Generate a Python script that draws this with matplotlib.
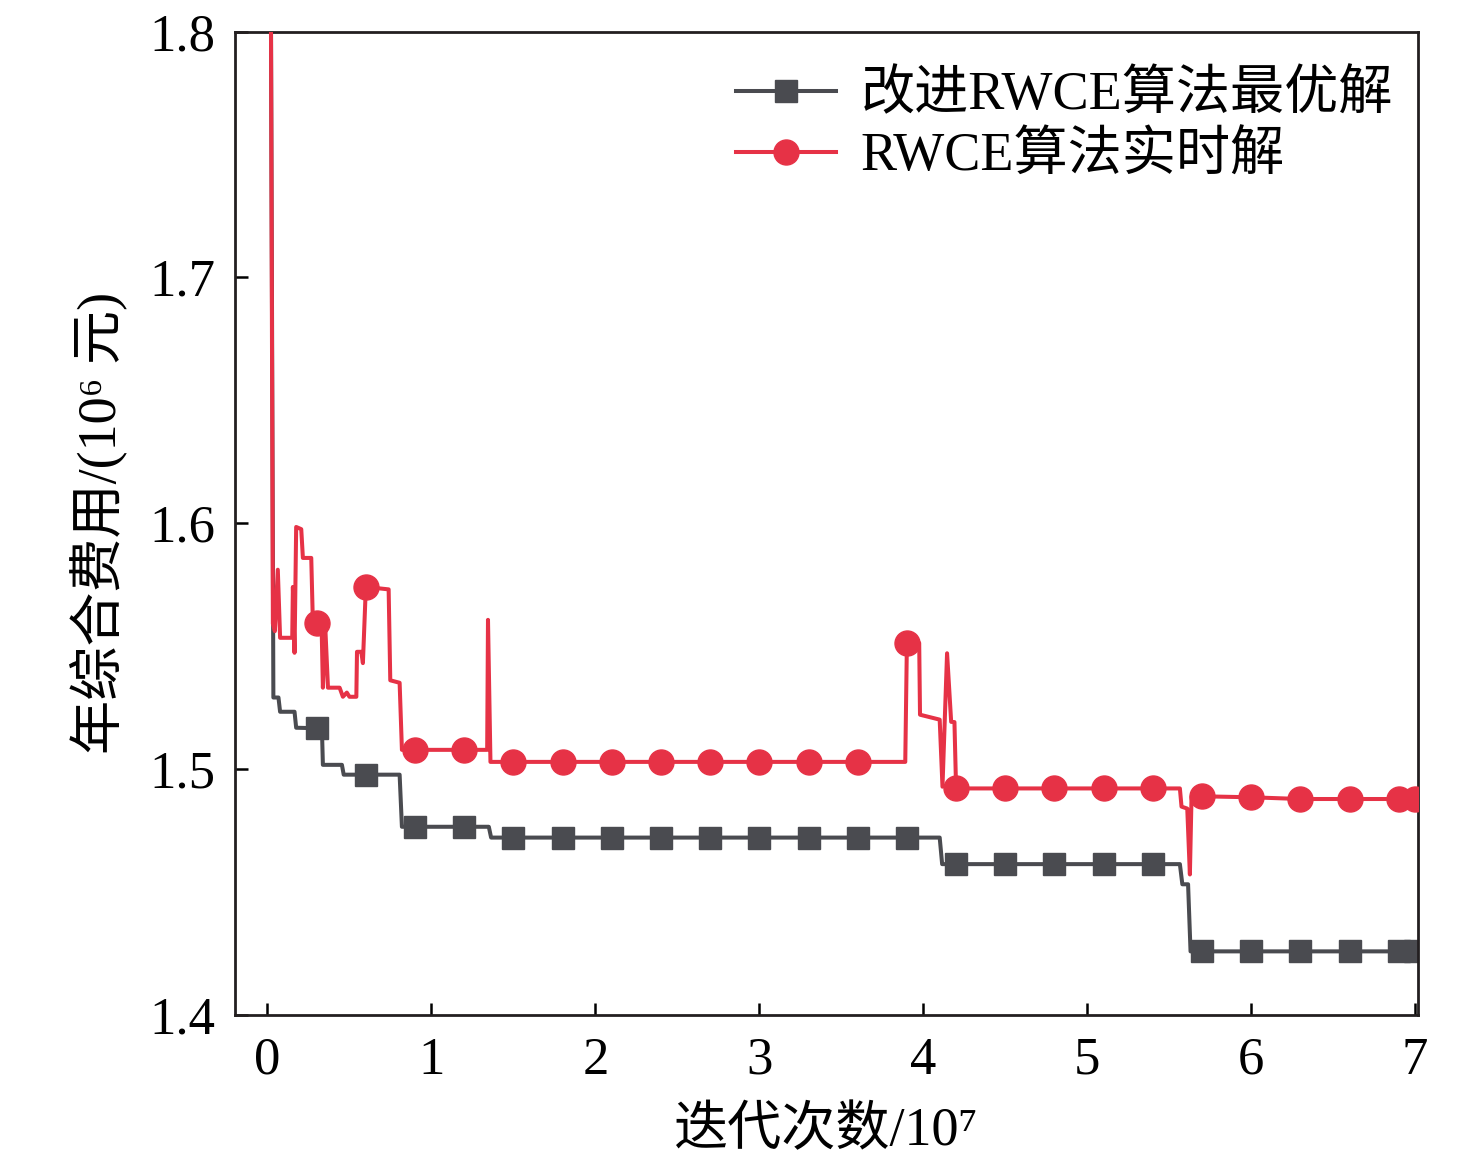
import numpy as np
import matplotlib.pyplot as plt

plt.rcParams['font.family'] = ['Liberation Serif', 'Noto Sans CJK SC', 'DejaVu Serif']

# improved RWCE best solution (grey, squares)
best_x = [0.019, 0.036, 0.067, 0.077, 0.165, 0.175, 0.3, 0.332, 0.338, 0.454,
          0.465, 0.6, 0.806, 0.82, 0.9, 1.2, 1.35, 1.364, 1.5, 1.8,
          2.1, 2.4, 2.7, 3.0, 3.3, 3.6, 3.9, 4.10, 4.115, 4.2,
          4.5, 4.8, 5.1, 5.4, 5.565, 5.58, 5.615, 5.63, 5.7, 6.0,
          6.3, 6.6, 6.9, 7.0]
best_y = [1.85, 1.529, 1.529, 1.5232, 1.5232, 1.5167, 1.5165, 1.5165, 1.5016, 1.5016,
          1.4976, 1.4976, 1.4976, 1.4764, 1.4764, 1.4764, 1.4764, 1.4720, 1.4720, 1.4720,
          1.4720, 1.4720, 1.4720, 1.4720, 1.4720, 1.4720, 1.4720, 1.4720, 1.4612, 1.4612,
          1.4612, 1.4612, 1.4612, 1.4612, 1.4612, 1.4530, 1.4530, 1.4257, 1.4257, 1.4257,
          1.4257, 1.4257, 1.4257, 1.4257]

# RWCE real-time solution (red, circles)
real_x = [0.019, 0.033, 0.045, 0.063, 0.077, 0.151, 0.155, 0.165, 0.175, 0.206,
          0.216, 0.267, 0.277, 0.3, 0.330, 0.338, 0.352, 0.369, 0.44, 0.46,
          0.484, 0.50, 0.542, 0.546, 0.572, 0.582, 0.6, 0.739, 0.749, 0.806,
          0.82, 0.9, 1.2, 1.34, 1.345, 1.36, 1.5, 1.8, 2.1, 2.4,
          2.7, 3.0, 3.3, 3.6, 3.89, 3.9, 3.975, 3.98, 4.10, 4.117,
          4.145, 4.17, 4.19, 4.2, 4.5, 4.8, 5.1, 5.4, 5.565, 5.575,
          5.61, 5.626, 5.636, 5.7, 6.0, 6.3, 6.6, 6.9, 7.0]
real_y = [1.85, 1.559, 1.556, 1.581, 1.5533, 1.5533, 1.574, 1.5472, 1.5984, 1.5975,
          1.5858, 1.5858, 1.5593, 1.5593, 1.5585, 1.533, 1.5585, 1.533, 1.533, 1.5293,
          1.531, 1.5293, 1.5293, 1.5476, 1.5476, 1.543, 1.574, 1.573, 1.536, 1.535,
          1.5077, 1.5077, 1.5077, 1.5077, 1.5606, 1.5028, 1.5028, 1.5028, 1.5028, 1.5028,
          1.5028, 1.5028, 1.5028, 1.5028, 1.5028, 1.5512, 1.5512, 1.522, 1.520, 1.4927,
          1.547, 1.5191, 1.519, 1.492, 1.492, 1.492, 1.492, 1.492, 1.492, 1.4846,
          1.4838, 1.457, 1.4886, 1.4888, 1.4884, 1.4877, 1.4877, 1.4877, 1.4877]

mark_x = [0.3, 0.6, 0.9, 1.2, 1.5, 1.8, 2.1, 2.4, 2.7, 3.0, 3.3, 3.6, 3.9,
          4.2, 4.5, 4.8, 5.1, 5.4, 5.7, 6.0, 6.3, 6.6, 6.9, 7.0]

labels = ['改进RWCE算法最优解', 'RWCE算法实时解']
xticks = [0, 1, 2, 3, 4, 5, 6, 7]
yticks = [1.4, 1.5, 1.6, 1.7, 1.8]


def marks(xs):
    xs = np.asarray(xs)
    return [i for i, v in enumerate(xs) if np.any(np.isclose(v, mark_x))]


fig = plt.figure(figsize=(14.76, 11.68), dpi=100)
ax = fig.add_axes([0.159, 0.1314, 0.802, 0.8416])

ax.plot(best_x, best_y, color='#4a4b50', lw=2.9, marker='s', ms=16,
        markevery=marks(best_x), label=labels[0], zorder=2)
ax.plot(real_x, real_y, color='#e63246', lw=2.9, marker='o', ms=18,
        markevery=marks(real_x), label=labels[1], zorder=3)

ax.set_xlim(-0.2, 7.02)
ax.set_ylim(1.4, 1.8)
ax.set_xticks(xticks)
ax.set_yticks(yticks)
ax.set_xticklabels([str(t) for t in xticks])
ax.set_yticklabels(['%.1f' % t for t in yticks])
ax.tick_params(direction='in', length=9, width=1.8, labelsize=38)
ax.tick_params(axis='x', pad=16)
ax.tick_params(axis='y', pad=14)
for s in ax.spines.values():
    s.set_linewidth(2)
    s.set_color('#231f20')

ax.set_xlabel('迭代次数/10⁷', fontsize=39, labelpad=16)
ax.set_ylabel('年综合费用/(10⁶ 元)', fontsize=39, labelpad=16)

ax.legend(loc='upper right', frameon=False, fontsize=39, handlelength=1.85,
          handletextpad=0.45, labelspacing=0.2, borderaxespad=0.2,
          bbox_to_anchor=(1.006, 0.993))

fig.savefig('out.png', dpi=100)
